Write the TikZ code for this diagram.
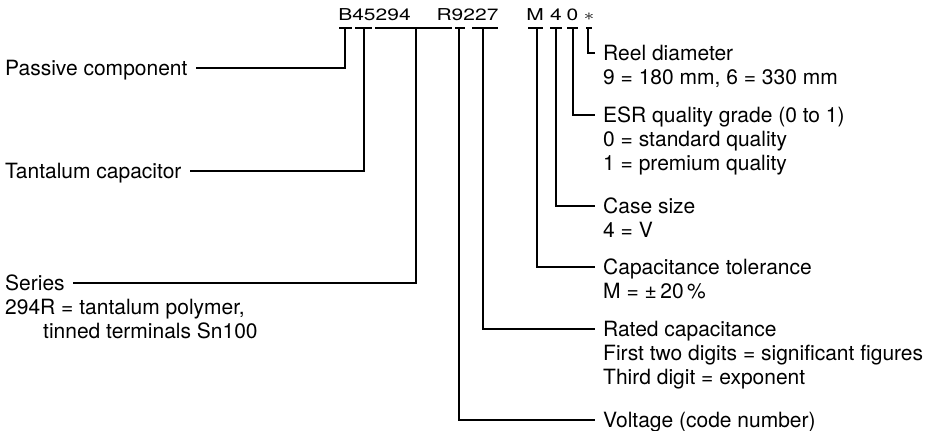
\documentclass[tikz,border=0pt]{standalone}
\usepackage{fontspec}
\setmainfont{TeX Gyre Heros}
\usetikzlibrary{positioning}
\newcommand{\squash}[1]{\scalebox{1}[0.78]{#1}}
\tikzset{
  code/.style={font=\fontsize{21}{24}\selectfont,inner sep=0pt,anchor=base},
  head/.style={font=\fontsize{21}{24}\selectfont,inner xsep=8pt,inner ysep=0pt,text height=15pt,text depth=0pt},
  note/.style={font=\fontsize{21}{24}\selectfont,inner sep=0pt,align=left,anchor=north west},
  bar/.style={line width=1.1pt},
  lead/.style={line width=1.1pt}
}
\begin{document}
\begin{tikzpicture}[x=1pt,y=-1pt]
\path[use as bounding box] (0,0) rectangle (938,431);
% type designation
\node[code] (codeB) at (374.5,20) {\squash{B45294}};
\node[code] (codeR) at (467.5,20) {\squash{R9227}};
\node[code] (codeM) at (535,20) {\squash{M}};
\node[code] (code4) at (556,20) {\squash{4}};
\node[code] (code0) at (572.5,20) {\squash{0}};
\node[code] (codeS) at (589,20) {\squash{$\ast$}};
% bars under the code
\foreach \l/\r/\v/\n in {339/352/345/tB,355/372/364/t45,375/452/416/t294,455/465/459/t9,472/498/483/t227,528/543/537/tM,550/562/556/t4,567/578/573/t0,586/592/588/tS}{
  \draw[bar] (\l,28) -- (\r,28);
  \coordinate (\n) at (\v,28);
}
% left labels
\node[head,anchor=west] (passive) at (-3,68) {Passive component};
\node[head,anchor=west] (tantalum) at (-3,171) {Tantalum capacitor};
\node[head,anchor=west] (series) at (-3,283) {Series};
\node[note] (seriesnote) at (5,299.3) {294R = tantalum polymer,\\\hspace*{38pt}tinned terminals Sn100};
% right labels
\node[head,anchor=west] (reel) at (595,53) {Reel diameter};
\node[note] (reelnote) at (603,69.3) {9 = 180 mm, 6 = 330 mm};
\node[head,anchor=west] (esr) at (595,115) {ESR quality grade (0 to 1)};
\node[note] (esrnote) at (603,131.3) {0 = standard quality\\1 = premium quality};
\node[head,anchor=west] (case) at (595,206) {Case size};
\node[note] (casenote) at (603,222.3) {4 = V};
\node[head,anchor=west] (tol) at (595,267) {Capacitance tolerance};
\node[note] (tolnote) at (603,283.3) {M = ±\,20\,\%};
\node[head,anchor=west] (rated) at (595,329) {Rated capacitance};
\node[note] (ratednote) at (603,345.3) {First two digits = significant figures\\Third digit = exponent};
\node[head,anchor=west] (volt) at (595,420) {Voltage (code number)};
% leaders
\draw[lead] (tB) |- (passive.east);
\draw[lead] (t45) |- (tantalum.east);
\draw[lead] (t294) |- (series.east);
\draw[lead] (t9) |- (volt.west);
\draw[lead] (t227) |- (rated.west);
\draw[lead] (tM) |- (tol.west);
\draw[lead] (t4) |- (case.west);
\draw[lead] (t0) |- (esr.west);
\draw[lead] (tS) |- (reel.west);
\end{tikzpicture}
\end{document}
